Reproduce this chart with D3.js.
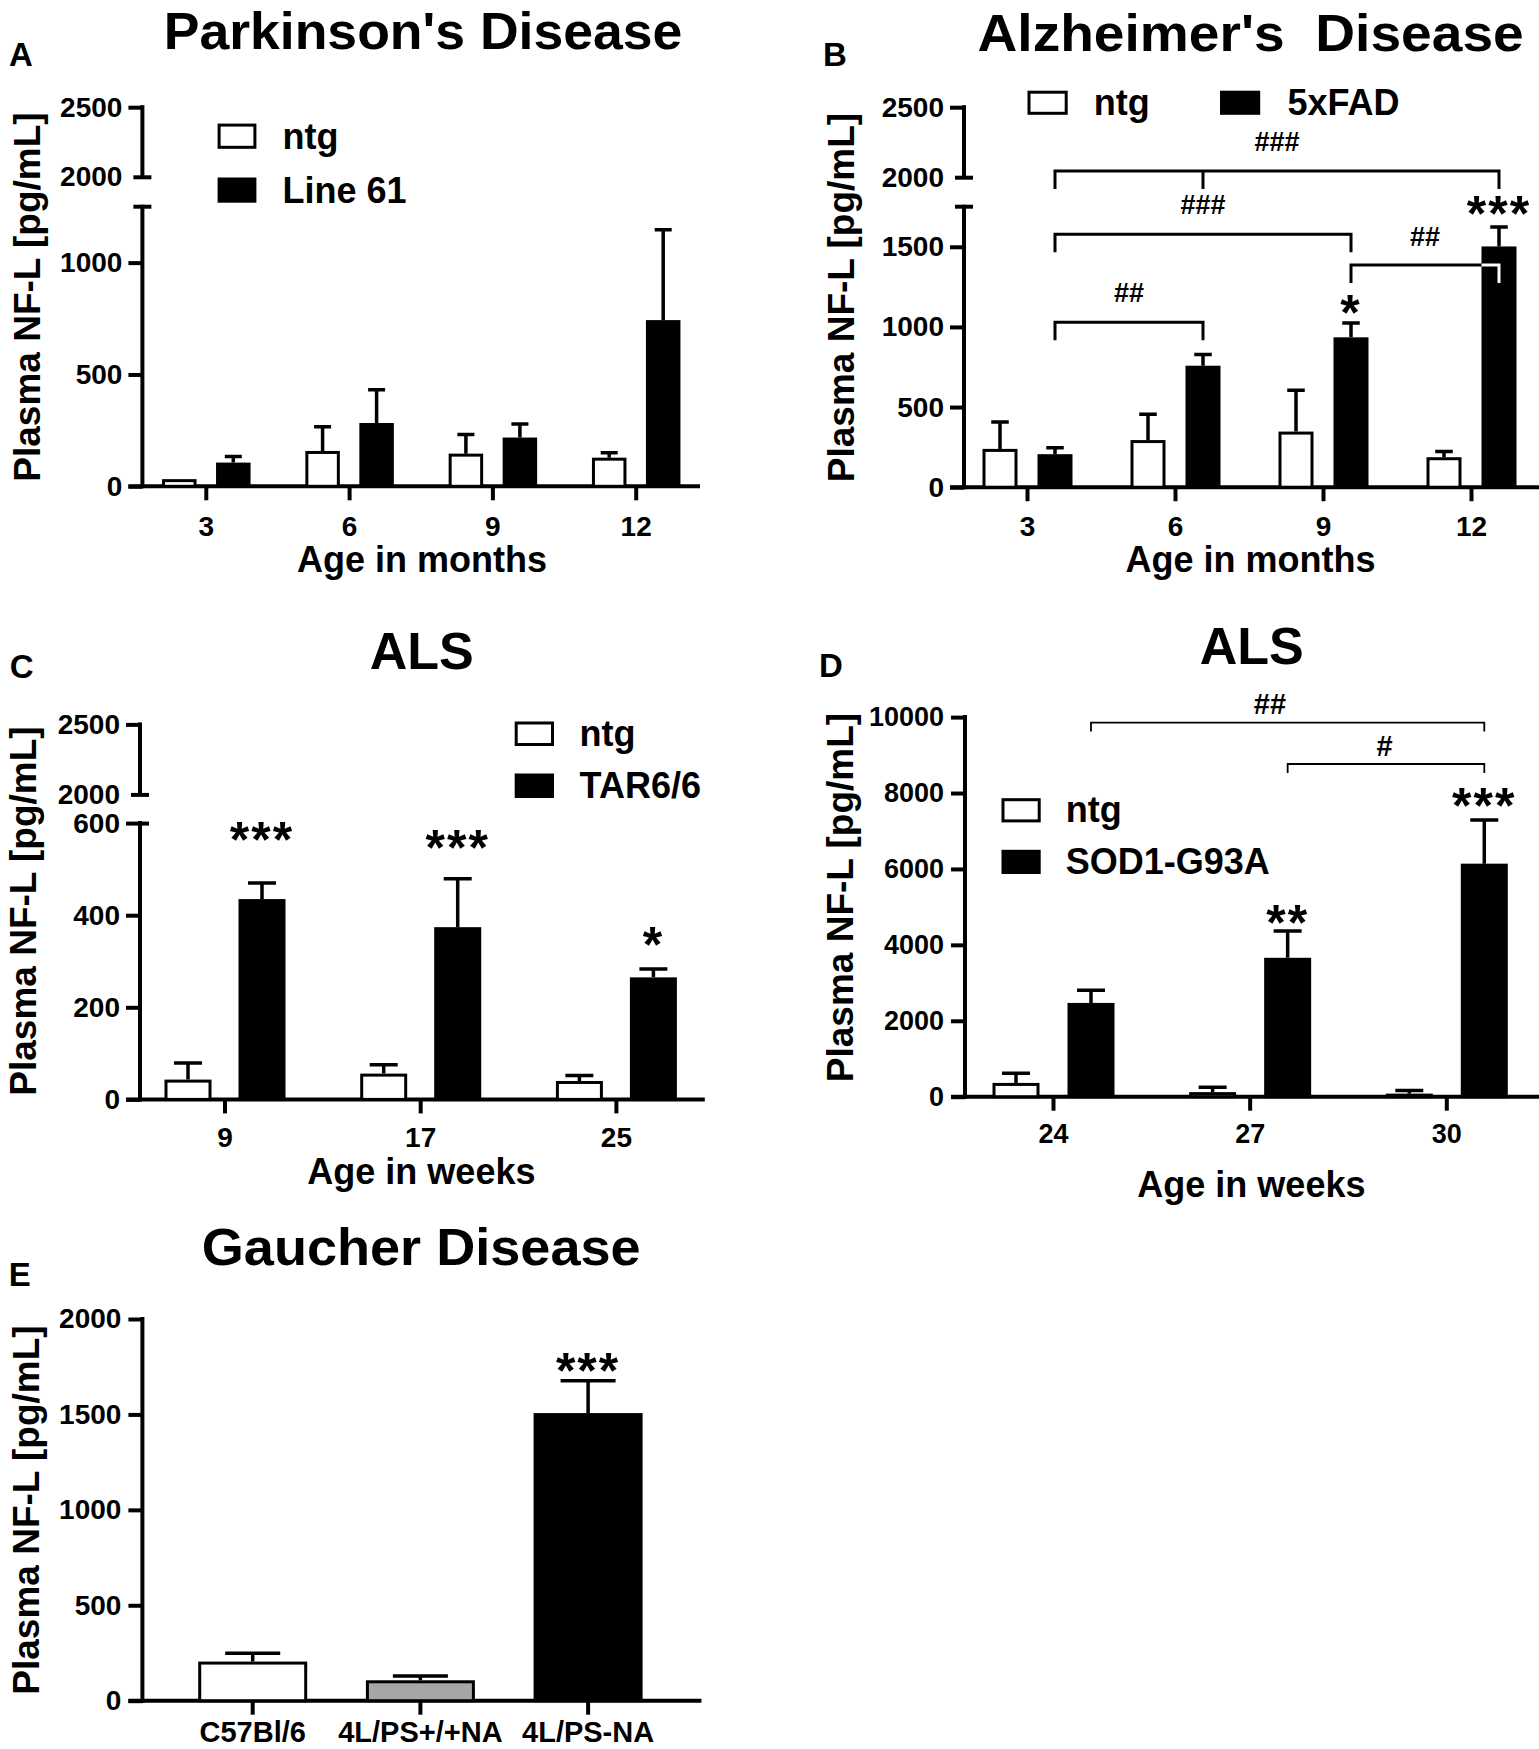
<!DOCTYPE html>
<html>
<head>
<meta charset="utf-8">
<script src="https://cdn.jsdelivr.net/npm/d3@7"></script>
<style>
  body { margin: 0; background: #fff; }
  svg text { font-family: "Liberation Sans", Arial, Helvetica, sans-serif; font-weight: bold; fill: #000; }
</style>
</head>
<body>
<svg id="chart" width="1539" height="1749"></svg>
<script>
// ---------------- DATA ----------------
// Panel A – Parkinson's Disease
const pdAges = ["3", "6", "9", "12"];
const pdSeries = ["ntg", "Line 61"];
const pdNtgMean = [32, 158, 146, 128];
const pdNtgSem = [0, 108, 86, 22];
const pdLine61Mean = [106, 283, 218, 743];
const pdLine61Sem = [27, 149, 60, 404];
const pdYTicksLow = [0, 500, 1000];
const pdYTicksHigh = [2000, 2500];

// Panel B – Alzheimer's Disease
const adAges = ["3", "6", "9", "12"];
const adSeries = ["ntg", "5xFAD"];
const adNtgMean = [239, 294, 347, 187];
const adNtgSem = [168, 161, 258, 35];
const adFadMean = [206, 758, 935, 1502];
const adFadSem = [40, 70, 89, 122];
const adFadStars = ["", "", "*", "***"];
const adYTicksLow = [0, 500, 1000, 1500];
const adYTicksHigh = [2000, 2500];
const adBracketFrom = ["3", "3", "3", "9"];
const adBracketTo = ["12", "9", "6", "12"];
const adBracketMid = ["6", null, null, null];
const adBracketLabel = ["###", "###", "##", "##"];

// Panel C – ALS (TAR6/6)
const tarWeeks = ["9", "17", "25"];
const tarSeries = ["ntg", "TAR6/6"];
const tarNtgMean = [43, 56, 40];
const tarNtgSem = [36, 19, 12];
const tarMean = [435, 374, 265];
const tarSem = [35, 105, 18];
const tarStars = ["***", "***", "*"];
const tarYTicksLow = [0, 200, 400, 600];
const tarYTicksHigh = [2000, 2500];

// Panel D – ALS (SOD1-G93A)
const sodWeeks = ["24", "27", "30"];
const sodSeries = ["ntg", "SOD1-G93A"];
const sodNtgMean = [363, 121, 81];
const sodNtgSem = [252, 131, 80];
const sodMean = [2470, 3659, 6139];
const sodSem = [332, 706, 1149];
const sodStars = ["", "**", "***"];
const sodYTicks = [0, 2000, 4000, 6000, 8000, 10000];
const sodBracketFrom = ["24", "27"];
const sodBracketTo = ["30", "30"];
const sodBracketLabel = ["##", "#"];

// Panel E – Gaucher Disease
const gdGroups = ["C57Bl/6", "4L/PS+/+NA", "4L/PS-NA"];
const gdMean = [205, 107, 1507];
const gdSem = [43, 23, 170];
const gdStars = ["", "", "***"];
const gdYTicks = [0, 500, 1000, 1500, 2000];

// ---------------- DRAWING ----------------
const svg = d3.select("#chart");
const WHITE = "#ffffff", BLACK = "#000000", GREY = "#a6a6a6";
const yTitle = "Plasma NF-L [pg/mL]";

function txt(g, x, y, s, size, o = {}) {
  let tr = `translate(${x},${y})`;
  if (o.rotate) tr += ` rotate(${o.rotate})`;
  if (o.sx && o.sx !== 1) tr += ` scale(${o.sx},1)`;
  const t = g.append("text").attr("transform", tr)
    .attr("text-anchor", o.anchor || "middle")
    .style("font-size", size + "px").text(s);
  if (o.ls) t.style("letter-spacing", o.ls + "px");
  if (o.pre) t.style("white-space", "pre");
  return t;
}

let clipId = 0;
function drawPanel(p) {
  const g = svg.append("g");
  const n = p.cats.length;
  const x = d3.scaleBand().domain(p.cats)
    .range([p.tick0 - p.step / 2, p.tick0 + p.step * (n - 0.5)]).padding(0);
  const xc = c => x(c) + x.bandwidth() / 2;
  const off = d3.scalePoint().domain(p.series)
    .range(p.series.length > 1 ? [-p.offset, p.offset] : [0, 0]);

  // y axis (possibly broken)
  const segs = p.segments.map(s => d3.scaleLinear().domain(s.domain).range(s.range));
  const y = segs[0];
  p.segments.forEach((s, i) => {
    const sc = segs[i];
    const ag = g.append("g").attr("transform", `translate(${p.axisX},0)`)
      .call(d3.axisLeft(sc).tickValues(s.ticks).tickSize(14).tickPadding(p.yPad).tickFormat(d3.format("d")));
    ag.select(".domain").remove();
    ag.selectAll(".tick line").attr("stroke", BLACK).attr("stroke-width", 4);
    ag.selectAll(".tick text").style("font-size", p.yFont + "px").attr("fill", BLACK);
    if (s.breakBottom) {
      ag.selectAll(".tick").filter(d => d === s.domain[0]).select("line").attr("x1", 9).attr("x2", -9);
    }
    if (s.breakTop) {
      const tv = s.domain[1];
      if (s.ticks.includes(tv)) {
        ag.selectAll(".tick").filter(d => d === tv).select("line").attr("x1", 9);
      } else {
        g.append("line").attr("x1", p.axisX - 9).attr("x2", p.axisX + 9)
          .attr("y1", sc(tv)).attr("y2", sc(tv)).attr("stroke", BLACK).attr("stroke-width", 4);
      }
    }
    g.append("line").attr("x1", p.axisX).attr("x2", p.axisX)
      .attr("y1", sc(s.domain[0]) + (i === 0 ? 2 : 0)).attr("y2", sc(s.domain[1]) - 2)
      .attr("stroke", BLACK).attr("stroke-width", 4);
  });

  // x axis
  const xg = g.append("g").attr("transform", `translate(0,${p.y0})`)
    .call(d3.axisBottom(x).tickSize(14).tickPadding(p.xBase - 14 - 0.71 * p.xFont).tickSizeOuter(0));
  xg.select(".domain").remove();
  xg.selectAll(".tick line").attr("stroke", BLACK).attr("stroke-width", 4);
  xg.selectAll(".tick text").style("font-size", p.xFont + "px").attr("fill", BLACK);
  g.append("line").attr("x1", p.axisX - 14).attr("x2", p.xEnd)
    .attr("y1", p.y0).attr("y2", p.y0).attr("stroke", BLACK).attr("stroke-width", 4);

  // bars
  const bars = [];
  p.series.forEach((s, si) => p.cats.forEach((c, ci) => bars.push({
    s, si, c, ci, m: p.means[si][ci], e: p.sems[si][ci],
    star: p.stars && si === p.starSeries ? p.stars[ci] : "", fill: p.fill(si, ci)
  })));
  const sw = 3;
  const bx = d => xc(d.c) + off(d.s) - p.barW / 2 + sw / 2;
  g.selectAll(null).data(bars).join("rect")
    .attr("x", bx).attr("width", p.barW - sw)
    .attr("y", d => y(d.m) + sw / 2)
    .attr("height", d => Math.max(0, y(0) - y(d.m) - sw / 2))
    .attr("fill", d => d.fill).attr("stroke", BLACK).attr("stroke-width", sw);

  // error bars (upper only)
  g.selectAll(null).data(bars.filter(d => d.e > 0)).join("path")
    .attr("d", d => {
      const cx = xc(d.c) + off(d.s), yt = y(d.m + d.e);
      return `M${cx},${y(d.m)}V${yt}M${cx - p.capW / 2},${yt}H${cx + p.capW / 2}`;
    })
    .attr("stroke", BLACK).attr("stroke-width", 3.5).attr("fill", "none");

  // significance stars
  bars.filter(d => d.star).forEach(d => {
    const yb = y(d.m + d.e) - p.starGap[d.ci] + 0.40 * p.starFont;
    txt(g, xc(d.c) + off(d.s), yb, d.star, p.starFont, { ls: 2 });
  });

  // brackets
  if (p.brackets) {
    const bxOf = c => xc(c) + off(p.bracketSeries);
    const cid = "clip" + (clipId++);
    const cp = svg.append("clipPath").attr("id", cid);
    bars.filter(d => d.fill === BLACK).forEach(d => {
      cp.append("rect").attr("x", bx(d) - sw / 2).attr("width", p.barW)
        .attr("y", y(d.m)).attr("height", y(0) - y(d.m));
    });
    p.brackets.from.forEach((f, i) => {
      const x1 = bxOf(f), x2 = bxOf(p.brackets.to[i]);
      const yy = p.brackets.y[i], leg = p.brackets.leg;
      let d = `M${x1},${yy + leg}V${yy}H${x2}V${yy + leg}`;
      const mid = p.brackets.mid ? p.brackets.mid[i] : null;
      if (mid) d += `M${bxOf(mid)},${yy}V${yy + leg}`;
      g.append("path").attr("d", d).attr("fill", "none").attr("stroke", BLACK)
        .attr("stroke-width", p.brackets.sw).attr("stroke-linecap", "square");
      g.append("path").attr("d", d).attr("fill", "none").attr("stroke", WHITE)
        .attr("stroke-width", p.brackets.sw).attr("stroke-linecap", "square")
        .attr("clip-path", `url(#${cid})`);
      txt(g, (x1 + x2) / 2 + (p.brackets.dx ? p.brackets.dx[i] : 0), yy - p.brackets.labelGap[i],
        p.brackets.label[i], p.brackets.font);
    });
  }

  // legend
  if (p.legend) {
    p.series.forEach((s, si) => {
      const L = p.legend;
      g.append("rect").attr("x", L.sqX[si] + sw / 2).attr("y", L.sqY[si] + sw / 2)
        .attr("width", L.w - sw).attr("height", L.h - sw)
        .attr("fill", p.fill(si, 0)).attr("stroke", BLACK).attr("stroke-width", sw);
      txt(g, L.txX[si], L.sqY[si] + L.h, s, 36, { anchor: "start" });
    });
  }

  // titles
  txt(g, p.title.x, p.title.y, p.title.text, 52, { sx: p.title.sx, pre: true });
  txt(g, p.letter.x, p.letter.y, p.letter.text, 33, { anchor: "start" });
  if (p.xTitle) txt(g, p.xTitle.x, p.xTitle.y, p.xTitle.text, 36);
  txt(g, p.yTitle.x, p.yTitle.y, yTitle, 37, { rotate: -90 });
}

// Panel A
drawPanel({
  cats: pdAges, series: pdSeries, means: [pdNtgMean, pdLine61Mean], sems: [pdNtgSem, pdLine61Sem],
  fill: si => (si === 0 ? WHITE : BLACK),
  axisX: 142.4, y0: 486.3, tick0: 206.3, step: 143.3, xEnd: 700,
  barW: 34.5, offset: 27, capW: 17,
  segments: [
    { domain: [0, 1250], range: [486.3, 206.7], ticks: pdYTicksLow, breakTop: true },
    { domain: [2000, 2500], range: [176.8, 107.2], ticks: pdYTicksHigh, breakBottom: true }
  ],
  yFont: 28, yPad: 6, xFont: 28, xBase: 49.8,
  legend: { sqX: [217.6, 217.6], sqY: [123.6, 177.5], w: 38.8, h: 25.2, txX: [282.4, 282.4] },
  title: { text: "Parkinson's Disease", x: 423, y: 49, sx: 1.03 },
  letter: { text: "A", x: 9, y: 66 },
  xTitle: { text: "Age in months", x: 422, y: 572 },
  yTitle: { x: 40, y: 297 }
});

// Panel B
drawPanel({
  cats: adAges, series: adSeries, means: [adNtgMean, adFadMean], sems: [adNtgSem, adFadSem],
  fill: si => (si === 0 ? WHITE : BLACK),
  stars: adFadStars, starSeries: 1, starGap: [0, 0, 13.4, 15.6], starFont: 50,
  axisX: 964, y0: 487.2, tick0: 1027.5, step: 148, xEnd: 1539,
  barW: 35, offset: 27.5, capW: 17.5,
  segments: [
    { domain: [0, 1750], range: [487.2, 206.7], ticks: adYTicksLow, breakTop: true },
    { domain: [2000, 2500], range: [177.2, 107.2], ticks: adYTicksHigh, breakBottom: true }
  ],
  yFont: 28, yPad: 6, xFont: 28, xBase: 48.6,
  brackets: {
    from: adBracketFrom, to: adBracketTo, mid: adBracketMid, label: adBracketLabel,
    y: [171, 234.2, 322.2, 265], leg: 16.5, labelGap: [20, 20, 20, 19], sw: 3, font: 27
  },
  bracketSeries: "5xFAD",
  legend: { sqX: [1027.5, 1220], sqY: [90.7, 90.7], w: 40.2, h: 24.1, txX: [1093.7, 1287.4] },
  title: { text: "Alzheimer's  Disease", x: 1250.6, y: 51, sx: 1.06 },
  letter: { text: "B", x: 823, y: 66 },
  xTitle: { text: "Age in months", x: 1250.5, y: 572 },
  yTitle: { x: 854, y: 297.5 }
});

// Panel C
drawPanel({
  cats: tarWeeks, series: tarSeries, means: [tarNtgMean, tarMean], sems: [tarNtgSem, tarSem],
  fill: si => (si === 0 ? WHITE : BLACK),
  stars: tarStars, starSeries: 1, starGap: [46, 34, 27], starFont: 50,
  axisX: 140, y0: 1099.4, tick0: 225, step: 195.7, xEnd: 704.8,
  barW: 47, offset: 37, capW: 28,
  segments: [
    { domain: [0, 600], range: [1099.4, 823.1], ticks: tarYTicksLow, breakTop: true },
    { domain: [2000, 2500], range: [794.4, 724.4], ticks: tarYTicksHigh, breakBottom: true }
  ],
  yFont: 28, yPad: 6, xFont: 28, xBase: 48,
  legend: { sqX: [514.7, 514.7], sqY: [721.5, 773.5], w: 39.3, h: 24.5, txX: [579.6, 579.6] },
  title: { text: "ALS", x: 421.7, y: 669, sx: 1 },
  letter: { text: "C", x: 9.8, y: 678 },
  xTitle: { text: "Age in weeks", x: 421.4, y: 1183.6 },
  yTitle: { x: 36, y: 911 }
});

// Panel D
drawPanel({
  cats: sodWeeks, series: sodSeries, means: [sodNtgMean, sodMean], sems: [sodNtgSem, sodSem],
  fill: si => (si === 0 ? WHITE : BLACK),
  stars: sodStars, starSeries: 1, starGap: [0, 11.4, 17.3], starFont: 50,
  axisX: 965, y0: 1096.7, tick0: 1053.5, step: 196.65, xEnd: 1539,
  barW: 47, offset: 37.5, capW: 28,
  segments: [
    { domain: [0, 10000], range: [1096.7, 717.1], ticks: sodYTicks }
  ],
  yFont: 27, yPad: 7, xFont: 27, xBase: 46.7,
  brackets: {
    from: sodBracketFrom, to: sodBracketTo, label: sodBracketLabel,
    y: [722.7, 764], leg: 8, labelGap: [8.7, 8], dx: [-17.7, -1.5], sw: 1.8, font: 29
  },
  bracketSeries: "SOD1-G93A",
  legend: { sqX: [1001.5, 1001.5], sqY: [798.2, 849.8], w: 39.2, h: 24.2, txX: [1065.7, 1065.7] },
  title: { text: "ALS", x: 1251.8, y: 664, sx: 1 },
  letter: { text: "D", x: 819, y: 677 },
  xTitle: { text: "Age in weeks", x: 1251.4, y: 1197 },
  yTitle: { x: 853, y: 897.5 }
});

// Panel E
drawPanel({
  cats: gdGroups, series: ["NF-L"], means: [gdMean], sems: [gdSem],
  fill: (si, ci) => [WHITE, GREY, BLACK][ci],
  stars: gdStars, starSeries: 0, starGap: [0, 0, 12.7], starFont: 50,
  axisX: 142.4, y0: 1700.7, tick0: 252.7, step: 167.7, xEnd: 701.4,
  barW: 109, offset: 0, capW: 55,
  segments: [
    { domain: [0, 2000], range: [1700.7, 1319], ticks: gdYTicks }
  ],
  yFont: 28, yPad: 7, xFont: 29, xBase: 41,
  title: { text: "Gaucher Disease", x: 421.2, y: 1265, sx: 1.04 },
  letter: { text: "E", x: 8.8, y: 1286 },
  yTitle: { x: 39, y: 1510 }
});
</script>
</body>
</html>
